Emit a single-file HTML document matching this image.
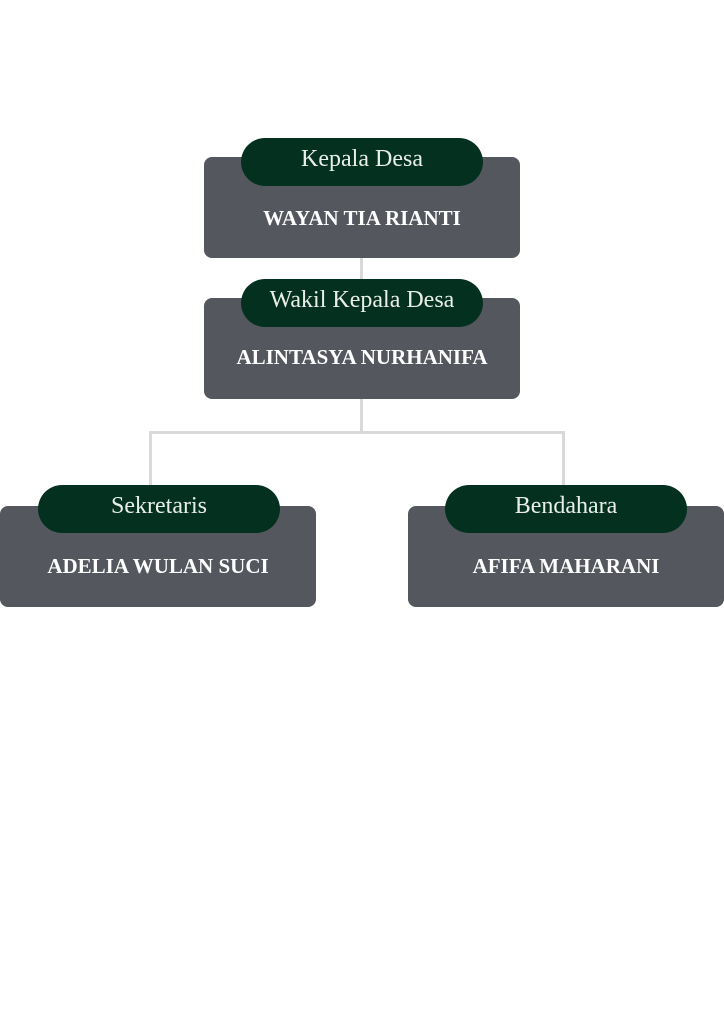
<!DOCTYPE html>
<html><head><meta charset="utf-8"><style>
body{margin:0;width:724px;height:1024px;background:#fff;position:relative;overflow:hidden;font-family:"Liberation Serif",serif}
.box{position:absolute;width:316px;height:101px;background:#54575e;border-radius:8px}
.pill{position:absolute;width:242px;height:48px;background:#04301f;border-radius:24px;color:#e8efe9;font-size:24px;text-align:center;line-height:42px}
.name{position:absolute;width:316px;text-align:center;color:#fff;font-weight:bold;font-size:21px;line-height:24px}
.ln{position:absolute;background:#d9d9d9}
</style></head><body>
<div class="ln" style="left:360px;top:257px;width:3px;height:42px"></div>
<div class="ln" style="left:360px;top:399px;width:3px;height:34px"></div>
<div class="ln" style="left:149px;top:431px;width:416px;height:3px"></div>
<div class="ln" style="left:149px;top:431px;width:3px;height:56px"></div>
<div class="ln" style="left:562px;top:431px;width:3px;height:56px"></div>

<div class="box" style="left:204px;top:157px"></div>
<div class="pill" style="left:241px;top:138px">Kepala Desa</div>
<div class="name" style="left:204px;top:206px">WAYAN TIA RIANTI</div>

<div class="box" style="left:204px;top:298px"></div>
<div class="pill" style="left:241px;top:279px">Wakil Kepala Desa</div>
<div class="name" style="left:204px;top:345px">ALINTASYA NURHANIFA</div>

<div class="box" style="left:0px;top:506px"></div>
<div class="pill" style="left:38px;top:485px">Sekretaris</div>
<div class="name" style="left:0px;top:554px">ADELIA WULAN SUCI</div>

<div class="box" style="left:408px;top:506px"></div>
<div class="pill" style="left:445px;top:485px">Bendahara</div>
<div class="name" style="left:408px;top:554px">AFIFA MAHARANI</div>
</body></html>
